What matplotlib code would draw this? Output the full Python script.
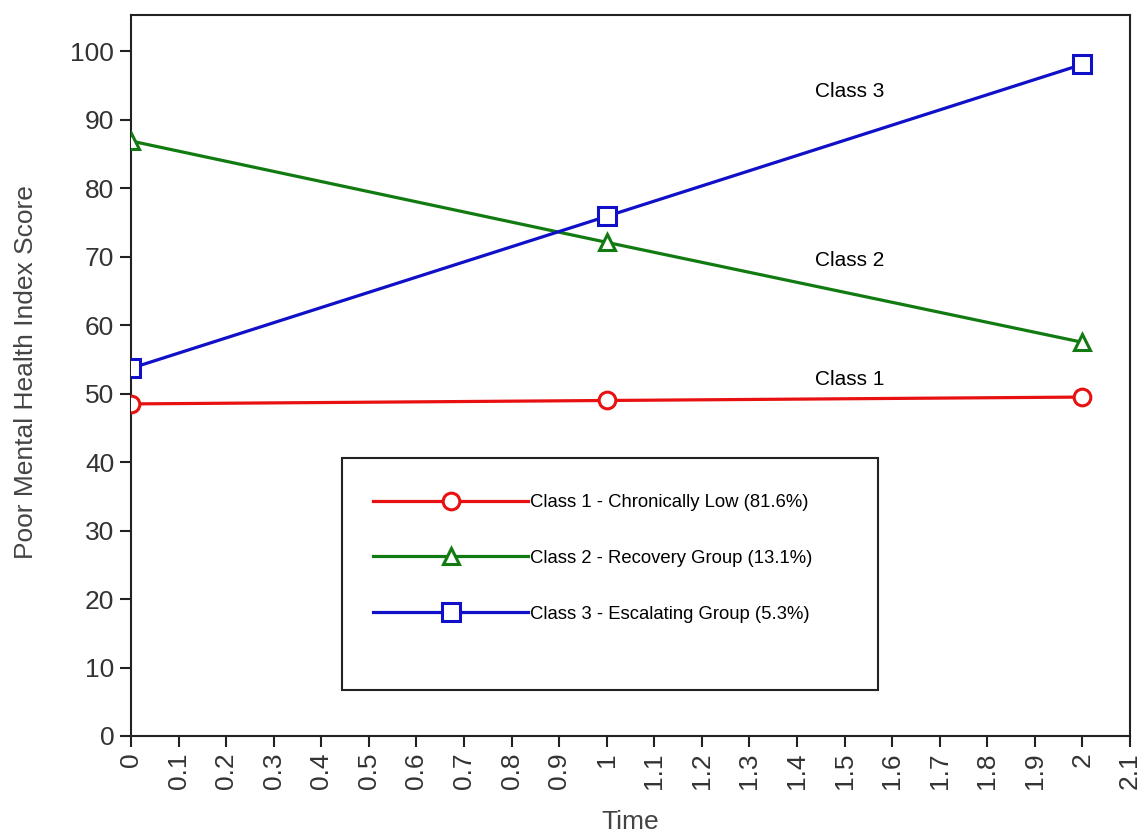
import matplotlib
matplotlib.use("Agg")
import matplotlib.pyplot as plt
from matplotlib.lines import Line2D
from matplotlib.patches import Rectangle

plt.rcParams['font.family'] = ['Liberation Sans', 'DejaVu Sans']

time = [0, 1, 2]
class1 = [48.5, 49.0, 49.5]
class2 = [86.9, 72.1, 57.5]
class3 = [53.7, 75.9, 98.1]
legend_labels = ["Class 1 - Chronically Low (81.6%)",
                 "Class 2 - Recovery Group (13.1%)",
                 "Class 3 - Escalating Group (5.3%)"]
annot_labels = ["Class 1", "Class 2", "Class 3"]
annot_pos = [(1.438, 52.0), (1.438, 69.5), (1.438, 94.2)]
xticks = [round(i * 0.1, 1) for i in range(22)]
yticks = list(range(0, 101, 10))

colors = ["#e81010", "#117a11", "#1010c8"]
markers = ["o", "^", "s"]
msizes = [12, 12, 13]

fig = plt.figure(figsize=(11.42, 8.35), dpi=100)
ax = fig.add_axes([0.1147, 0.1186, 0.8748, 0.8634])

series = [class1, class2, class3]
handles = []
for s, c, m, ms, lab in zip(series, colors, markers, msizes, legend_labels):
    ax.plot(time, s, color=c, lw=2.3, marker=m, markersize=ms,
            markerfacecolor="white", markeredgecolor=c, markeredgewidth=2.2, zorder=3)
    handles.append(Line2D([0], [0], color=c, lw=2.3, marker=m, markersize=ms,
                          markerfacecolor="white", markeredgecolor=c, markeredgewidth=2.2,
                          label=lab))

for lab, (x, y) in zip(annot_labels, annot_pos):
    ax.text(x, y, lab, fontsize=15, color="black", ha="left", va="center")

ax.set_xlim(0, 2.1)
ax.set_ylim(0, 105.3)
ax.set_xticks(xticks)
ax.set_xticklabels([("%g" % t) for t in xticks], rotation=90, fontsize=19, color="#333333")
ax.set_yticks(yticks)
ax.set_yticklabels([str(v) for v in yticks], fontsize=19, color="#333333")
ax.tick_params(direction="out", length=8, width=1.5, color="#222222", pad=4)
for sp in ax.spines.values():
    sp.set_linewidth(1.5)
    sp.set_color("#222222")

fig.text(0.552, 0.0156, "Time", fontsize=19, color="#444444", ha="center", va="center")
fig.text(0.023, 0.554, "Poor Mental Health Index Score", fontsize=19, color="#444444",
         ha="center", va="center", rotation=90)

# legend frame
lx0, ly0, lw, lh = 342 / 1142, 1 - 690 / 835, (878 - 342) / 1142, (690 - 458) / 835
frame = Rectangle((lx0, ly0), lw, lh, transform=fig.transFigure,
                  fill=True, facecolor="white", edgecolor="#222222",
                  linewidth=1.5, zorder=5, clip_on=False)
ax.add_patch(frame)
leg = ax.legend(handles=handles, loc="upper left",
                bbox_to_anchor=(373 / 1142, 1 - 494 / 835), bbox_transform=fig.transFigure,
                fontsize=13.3, handlelength=8.4, handletextpad=0.1,
                labelspacing=2.1, borderpad=0, borderaxespad=0, frameon=False)
leg.set_zorder(6)

fig.savefig("out.png", dpi=100)
